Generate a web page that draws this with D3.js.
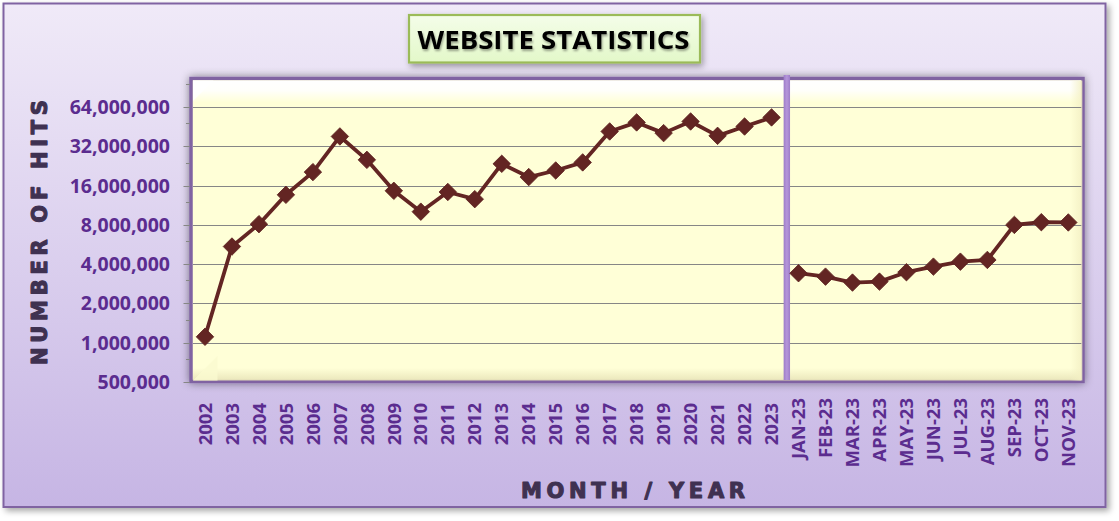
<!DOCTYPE html>
<html>
<head>
<meta charset="utf-8">
<script src="https://cdn.jsdelivr.net/npm/d3@7"></script>
<style>
  html, body { margin: 0; padding: 0; background: #ffffff; }
  svg { display: block; }
</style>
</head>
<body>
<svg id="chart" width="1119" height="521"></svg>
<script>
// ---------------- data ----------------
const years = ["2002","2003","2004","2005","2006","2007","2008","2009","2010","2011","2012",
               "2013","2014","2015","2016","2017","2018","2019","2020","2021","2022","2023"];
const yearHits = [1110000, 5460000, 8100000, 13600000, 20300000, 38100000, 25200000, 14600000,
                  10100000, 14300000, 12600000, 23500000, 18600000, 20900000, 24100000, 41600000,
                  48800000, 40400000, 49600000, 38500000, 45400000, 53300000];
const months = ["JAN-23","FEB-23","MAR-23","APR-23","MAY-23","JUN-23","JUL-23","AUG-23",
                "SEP-23","OCT-23","NOV-23"];
const monthHits = [3410000, 3210000, 2890000, 2940000, 3470000, 3830000, 4180000, 4310000,
                   8000000, 8390000, 8350000];
const yTicks = [500000, 1000000, 2000000, 4000000, 8000000, 16000000, 32000000, 64000000];
const yMinorTicks = [750000, 1500000, 3000000, 6000000, 12000000, 24000000, 48000000, 96000000];
const titleText = "WEBSITE STATISTICS";
const yTitle = "NUMBER OF HITS";
const xTitle = "MONTH / YEAR";

// ---------------- layout ----------------
const svg = d3.select("#chart");
const plot = { left: 191.5, right: 1081.8, top: 79, bottom: 382 };

const x = d3.scaleBand().domain(years.concat(months)).range([plot.left, plot.right]);
const cx = d => x(d) + x.bandwidth() / 2;
const y = d3.scaleLog().domain([500000, 105000000]).range([plot.bottom, plot.top]);

const defs = svg.append("defs");
const bgGrad = defs.append("linearGradient").attr("id", "bgGrad").attr("x1", 0).attr("y1", 0).attr("x2", 0).attr("y2", 1);
bgGrad.append("stop").attr("offset", "0%").attr("stop-color", "#f0eaf8");
bgGrad.append("stop").attr("offset", "100%").attr("stop-color", "#c6b5e4");

const titleGrad = defs.append("linearGradient").attr("id", "titleGrad").attr("x1", 0).attr("y1", 0).attr("x2", 0).attr("y2", 1);
titleGrad.append("stop").attr("offset", "0%").attr("stop-color", "#f4fde9");
titleGrad.append("stop").attr("offset", "100%").attr("stop-color", "#e3f8c9");

const topHi = defs.append("linearGradient").attr("id", "topHi").attr("x1", 0).attr("y1", 0).attr("x2", 0).attr("y2", 1);
topHi.append("stop").attr("offset", "0%").attr("stop-color", "#ffffff").attr("stop-opacity", 1);
topHi.append("stop").attr("offset", "45%").attr("stop-color", "#ffffff").attr("stop-opacity", 0.9);
topHi.append("stop").attr("offset", "100%").attr("stop-color", "#ffffff").attr("stop-opacity", 0);

const botSh = defs.append("linearGradient").attr("id", "botSh").attr("x1", 0).attr("y1", 0).attr("x2", 0).attr("y2", 1);
botSh.append("stop").attr("offset", "0%").attr("stop-color", "#e8e4b8").attr("stop-opacity", 0);
botSh.append("stop").attr("offset", "100%").attr("stop-color", "#e8e4b8").attr("stop-opacity", 0.9);

const rightSh = defs.append("linearGradient").attr("id", "rightSh").attr("x1", 0).attr("y1", 0).attr("x2", 1).attr("y2", 0);
rightSh.append("stop").attr("offset", "0%").attr("stop-color", "#f3f0c4").attr("stop-opacity", 0);
rightSh.append("stop").attr("offset", "100%").attr("stop-color", "#f3f0c4").attr("stop-opacity", 0.9);

const sepGrad = defs.append("linearGradient").attr("id", "sepGrad").attr("x1", 0).attr("y1", 0).attr("x2", 1).attr("y2", 0);
sepGrad.append("stop").attr("offset", "0%").attr("stop-color", "#9d7cc8");
sepGrad.append("stop").attr("offset", "50%").attr("stop-color", "#b596da");
sepGrad.append("stop").attr("offset", "100%").attr("stop-color", "#9d7cc8");

function shadow(id, dx, dy, blur, op) {
  const f = defs.append("filter").attr("id", id).attr("x", "-10%").attr("y", "-20%").attr("width", "120%").attr("height", "140%");
  f.append("feDropShadow").attr("dx", dx).attr("dy", dy).attr("stdDeviation", blur)
    .attr("flood-color", "#000").attr("flood-opacity", op);
}
shadow("outerSh", 3, 3, 3, 0.35);
shadow("plotSh", 0, 0, 4, 0.45);
shadow("boxSh", 2, 3, 3, 0.35);
shadow("txtSh", 1, 2, 1.2, 0.35);

// outer chart area
svg.append("rect").attr("x", 3.5).attr("y", 3.5).attr("width", 1102).attr("height", 503.5)
  .attr("fill", "url(#bgGrad)").attr("stroke", "#8064a2").attr("stroke-width", 2)
  .attr("filter", "url(#outerSh)");

// title box
svg.append("rect").attr("x", 409).attr("y", 15).attr("width", 291).attr("height", 47.5)
  .attr("fill", "url(#titleGrad)").attr("stroke", "#9bbb59").attr("stroke-width", 2.2)
  .attr("filter", "url(#boxSh)");
svg.append("text").attr("x", 553.5).attr("y", 48.5)
  .attr("text-anchor", "middle")
  .attr("font-family", "'Open Sans', 'Noto Sans', sans-serif")
  .attr("font-weight", "bold").attr("font-size", 25)
  .attr("textLength", 272).attr("lengthAdjust", "spacingAndGlyphs")
  .attr("fill", "#000").attr("filter", "url(#txtSh)")
  .text(titleText);

// plot area
const pw = plot.right - plot.left + 1.7, ph = plot.bottom - plot.top;
svg.append("rect").attr("x", plot.left - 0.5).attr("y", plot.top - 0.5).attr("width", pw).attr("height", ph)
  .attr("fill", "#ffffd7").attr("stroke", "#8064a2").attr("stroke-width", 3.5)
  .attr("filter", "url(#plotSh)");
svg.append("rect").attr("x", plot.left + 1.5).attr("y", plot.top + 1.5).attr("width", pw - 4).attr("height", 22)
  .attr("fill", "url(#topHi)");
svg.append("rect").attr("x", plot.left + 1.5).attr("y", plot.bottom - 14).attr("width", pw - 4).attr("height", 12.5)
  .attr("fill", "url(#botSh)");
svg.append("rect").attr("x", plot.right - 12).attr("y", plot.top + 1.5).attr("width", 12.5).attr("height", ph - 3)
  .attr("fill", "url(#rightSh)");
svg.append("polygon")
  .attr("points", `${plot.left+1.5},${plot.top+1.5} ${plot.left+22},${plot.top+1.5} ${plot.left+1.5},${plot.top+22}`)
  .attr("fill", "#ffffff").attr("opacity", 0.8);
svg.append("polygon")
  .attr("points", `${plot.left+1.5},${plot.bottom-1.5} ${plot.left+26},${plot.bottom-26} ${plot.left+26},${plot.bottom-1.5}`)
  .attr("fill", "#fafad0").attr("opacity", 0.8);

// gridlines
svg.append("g").selectAll("line").data(yTicks.slice(1)).join("line")
  .attr("x1", plot.left + 1.5).attr("x2", plot.right - 0.5)
  .attr("y1", d => Math.round(y(d)) + 0.5).attr("y2", d => Math.round(y(d)) + 0.5)
  .attr("stroke", "#868686").attr("stroke-width", 1.2);

// tick marks
svg.append("g").selectAll("line").data(yTicks).join("line")
  .attr("x1", plot.left - 8).attr("x2", plot.left - 1.5)
  .attr("y1", d => Math.round(y(d)) + 0.5).attr("y2", d => Math.round(y(d)) + 0.5)
  .attr("stroke", "#868686").attr("stroke-width", 1);
svg.append("g").selectAll("line").data(yMinorTicks).join("line")
  .attr("x1", plot.left - 5.5).attr("x2", plot.left - 1.5)
  .attr("y1", d => Math.round(y(d)) + 0.5).attr("y2", d => Math.round(y(d)) + 0.5)
  .attr("stroke", "#868686").attr("stroke-width", 1);

// y tick labels
const fmt = d3.format(",");
svg.append("g").selectAll("text").data(yTicks).join("text")
  .attr("x", 170).attr("y", d => y(d)).attr("dy", "0.36em")
  .attr("text-anchor", "end")
  .attr("font-family", "'Open Sans', 'Noto Sans', sans-serif")
  .attr("font-weight", "bold").attr("font-size", 19.5)
  .attr("fill", "#5b2c8f")
  .text(d => fmt(d));

// x tick labels
const xl = svg.append("g")
  .attr("font-family", "'Open Sans', 'Noto Sans', sans-serif")
  .attr("font-weight", "bold").attr("font-size", 18.5).attr("fill", "#5b2c8f");
xl.selectAll("text.yr").data(years).join("text").attr("class", "yr")
  .attr("transform", d => `translate(${cx(d)},403) rotate(-90)`)
  .attr("dy", "0.36em").attr("text-anchor", "end").text(d => d);
xl.selectAll("text.mo").data(months).join("text").attr("class", "mo")
  .attr("transform", d => `translate(${cx(d)},398) rotate(-90)`)
  .attr("dy", "0.36em").attr("text-anchor", "end").text(d => d);

// separator between yearly and monthly data
const sepX = x(months[0]) + 1.8;
svg.append("rect").attr("x", sepX - 3.2).attr("y", 75).attr("width", 6.4).attr("height", plot.bottom - 77)
  .attr("fill", "url(#sepGrad)");

// series
const line = d3.line().x(d => cx(d[0])).y(d => y(d[1]));
const lineColor = "#632523";
const yearData = years.map((c, i) => [c, yearHits[i]]);
const monthData = months.map((c, i) => [c, monthHits[i]]);
const diamond = d3.symbol().type(d3.symbolDiamond2).size(195);
[yearData, monthData].forEach(data => {
  svg.append("path").datum(data).attr("d", line)
    .attr("fill", "none").attr("stroke", lineColor).attr("stroke-width", 3.8)
    .attr("stroke-linejoin", "round");
  svg.append("g").selectAll("path").data(data).join("path")
    .attr("transform", d => `translate(${cx(d[0])},${y(d[1])})`)
    .attr("d", diamond)
    .attr("fill", lineColor).attr("stroke", "#5a1f1e").attr("stroke-width", 0.8);
});

// axis titles
svg.append("text").attr("x", 633).attr("y", 497.5)
  .attr("text-anchor", "middle")
  .attr("font-family", "'DejaVu Sans', sans-serif").attr("font-weight", "bold").attr("font-size", 21)
  .attr("textLength", 224).attr("lengthAdjust", "spacing")
  .attr("fill", "#3f3151").attr("stroke", "#3f3151").attr("stroke-width", 1.1)
  .attr("stroke-linejoin", "round").text(xTitle);
svg.append("text").attr("transform", "translate(46.5,232.5) rotate(-90)")
  .attr("text-anchor", "middle")
  .attr("font-family", "'DejaVu Sans', sans-serif").attr("font-weight", "bold").attr("font-size", 21)
  .attr("textLength", 265).attr("lengthAdjust", "spacing")
  .attr("fill", "#3f3151").attr("stroke", "#3f3151").attr("stroke-width", 1.1)
  .attr("stroke-linejoin", "round").text(yTitle);
</script>
</body>
</html>
